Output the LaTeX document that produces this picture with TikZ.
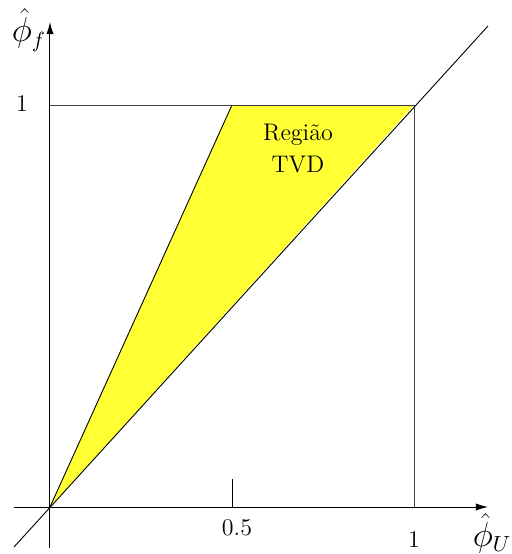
\documentclass[tikz,border=0pt]{standalone}
\usetikzlibrary{arrows.meta}
\definecolor{tvdyellow}{RGB}{255,255,51}
\begin{document}
\begin{tikzpicture}[x=0.5pt,y=-0.5pt,
  axis/.style={line width=0.5pt,-{Latex[length=6pt,width=3.6pt]}},
  thin/.style={line width=0.45pt},
  guide/.style={line width=0.45pt,draw=black!75},
  lbl/.style={font=\large,inner sep=0pt},
  philbl/.style={font=\fontsize{16}{19}\selectfont,inner sep=0pt}]
\useasboundingbox (0,0) rectangle (512,554);
\coordinate (O) at (50,507);
\coordinate (A) at (232,105);
\coordinate (B) at (414,105);
\coordinate (Y1) at (50,105);
\coordinate (X1) at (414,507);
\coordinate (T0) at (232,479);
\coordinate (T1) at (232,507);
\coordinate (D0) at (14,547);
\coordinate (D1) at (488,26);
\coordinate (XA0) at (14,507);
\coordinate (XA1) at (488,507);
\coordinate (YA0) at (50,548);
\coordinate (YA1) at (50,22);
\fill[tvdyellow] (O) -- (A) -- (B) -- cycle;
\draw[thin] (O) -- (A);
\draw[guide] (Y1) -- (B) -- (X1);
\draw[thin] (D0) -- (D1);
\draw[thin] (T0) -- (T1);
\draw[axis] (XA0) -- (XA1);
\draw[axis] (YA0) -- (YA1);
\node[lbl] (l1y) at (22,104) {1};
\node[lbl] (l05) at (237,528) {0.5};
\node[lbl] (l1x) at (414,540) {1};
\node[philbl] (phiU) at (492,533) {$\hat{\phi}_U$};
\node[philbl] (phif) at (29,30) {$\hat{\phi}_f$};
\node[lbl,align=center] (reg) at (298,149) {Região\\[2pt]TVD};
\end{tikzpicture}
\end{document}
